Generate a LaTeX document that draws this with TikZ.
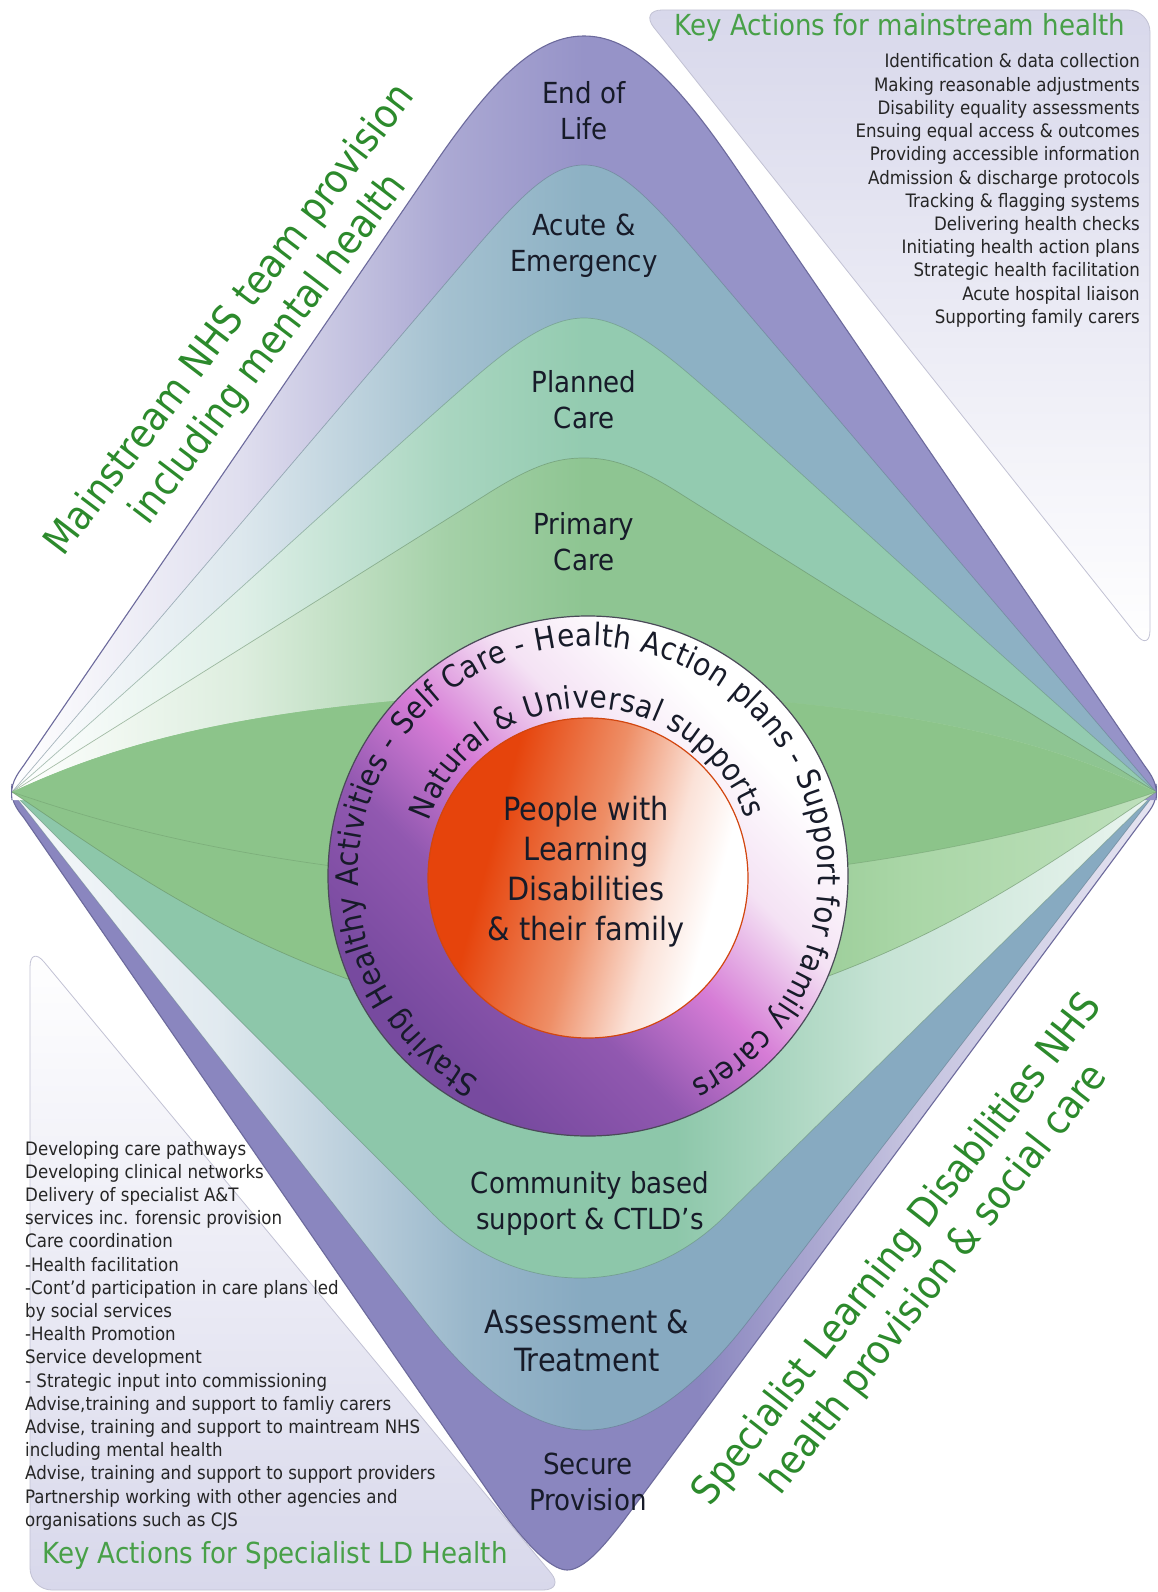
\documentclass[tikz,border=0pt]{standalone}
\usepackage{fontspec}
\setmainfont{DejaVu Sans Condensed}
\usetikzlibrary{decorations.text}

% ---------- palette ----------
\definecolor{eolC}{HTML}{9693C8}
\definecolor{acuteC}{HTML}{8DB1C4}
\definecolor{plannedC}{HTML}{93CBB0}
\definecolor{primaryC}{HTML}{8EC592}
\definecolor{lensC}{HTML}{8CC48A}
\definecolor{lensLight}{HTML}{A9D6A6}
\definecolor{commC}{HTML}{8DC7AA}
\definecolor{assessC}{HTML}{87AAC1}
\definecolor{secureC}{HTML}{8A86BF}
\definecolor{edgeC}{HTML}{6C6A9C}
\definecolor{panelC}{HTML}{D8D8EB}
\definecolor{panelEdge}{HTML}{C2C2D4}
\definecolor{titleG}{HTML}{48A048}
\definecolor{diagG}{HTML}{2C8A2C}
\definecolor{labelC}{HTML}{171B29}
\definecolor{listC}{HTML}{262626}
\definecolor{ringDark}{HTML}{774A9F}
\definecolor{ringMid}{HTML}{9158B0}
\definecolor{ringPink}{HTML}{D67CD6}
\definecolor{ringPale}{HTML}{F4E2F4}
\definecolor{ringLine}{HTML}{4A4A58}
\definecolor{coreC}{HTML}{E6440C}
\definecolor{coreMid}{HTML}{EE8E66}
\definecolor{corePale}{HTML}{FBE2D8}
\definecolor{coreLine}{HTML}{D2460F}

% ---------- shadings (25bp = left edge of the shape, 75bp = right edge) ----------
\newcommand\upperShade[2]{%
  \pgfdeclarehorizontalshading{#1}{100bp}{color(0bp)=(white); color(25bp)=(white);
    color(35bp)=(#2!30!white); color(44bp)=(#2!80!white); color(50bp)=(#2); color(100bp)=(#2)}}
\upperShade{eolShade}{eolC}
\upperShade{acuteShade}{acuteC}
\upperShade{plannedShade}{plannedC}
\upperShade{primaryShade}{primaryC}
\pgfdeclarehorizontalshading{secureShade}{100bp}{color(0bp)=(secureC); color(25bp)=(secureC);
  color(55bp)=(secureC); color(64bp)=(secureC!50!white); color(75bp)=(secureC!22!white); color(100bp)=(secureC!22!white)}
\pgfdeclarehorizontalshading{assessShade}{100bp}{color(0bp)=(assessC!8!white); color(25bp)=(assessC!8!white);
  color(34bp)=(assessC!25!white); color(45bp)=(assessC!85!white); color(50bp)=(assessC); color(100bp)=(assessC)}
\pgfdeclarehorizontalshading{commShade}{100bp}{color(0bp)=(commC); color(25bp)=(commC);
  color(54bp)=(commC); color(63bp)=(commC!50!white); color(75bp)=(commC!18!white); color(100bp)=(commC!18!white)}
\pgfdeclarehorizontalshading{lensBShade}{100bp}{color(0bp)=(lensC); color(25bp)=(lensC);
  color(55bp)=(lensC); color(64bp)=(lensLight); color(75bp)=(lensLight!75!white); color(100bp)=(lensLight!75!white)}
\pgfdeclarehorizontalshading{ringShade}{100bp}{color(0bp)=(ringDark); color(28bp)=(ringDark);
  color(40bp)=(ringMid); color(50bp)=(ringPink); color(60bp)=(ringPale); color(70bp)=(white); color(100bp)=(white)}
\pgfdeclarehorizontalshading{coreShade}{100bp}{color(0bp)=(coreC); color(34bp)=(coreC);
  color(50bp)=(coreMid); color(62bp)=(corePale); color(70bp)=(white); color(100bp)=(white)}

% ---------- band outlines (x relative to the vertical axis) ----------
\newcommand\pathEoL{(-572,800) .. controls (-574,784) and (-568,776) .. (-560,765)
  -- (-150,165) .. controls (-88,74) and (-45,36) .. (0,36)
  .. controls (45,36) and (88,74) .. (150,165)
  -- (560,765) .. controls (568,776) and (574,784) .. (572,800)}
\newcommand\pathAcute{(-572,792) -- (-110,250) .. controls (-61,193) and (-32,165) .. (0,165)
  .. controls (32,165) and (61,193) .. (110,250) -- (572,792)}
\newcommand\pathPlanned{(-572,792) .. controls (-380,624) and (-200,456) .. (-112,380)
  .. controls (-66,340) and (-32,318) .. (0,318) .. controls (32,318) and (66,340) .. (112,380)
  .. controls (200,456) and (380,624) .. (572,792)}
\newcommand\pathPrimary{(-572,792) -- (-100,496) .. controls (-50,464) and (-26,458) .. (0,458)
  .. controls (26,458) and (50,464) .. (100,496) -- (572,792)}
\newcommand\pathSecure{(-572,784) .. controls (-574,800) and (-568,808) .. (-560,818)
  -- (-90,1500) .. controls (-64,1537) and (-35,1570) .. (-17,1570)
  .. controls (0,1570) and (20,1546) .. (40,1520)
  -- (560,818) .. controls (568,808) and (574,800) .. (572,784)}
\newcommand\pathAssess{(-572,792) -- (-160,1320) .. controls (-105,1391) and (-50,1430) .. (3,1430)
  .. controls (56,1430) and (110,1391) .. (165,1320) -- (572,792)}
\newcommand\pathComm{(-572,792) -- (-150,1215) .. controls (-100,1265) and (-45,1278) .. (-4,1278)
  .. controls (37,1278) and (92,1265) .. (142,1215) -- (572,792)}
\newcommand\lensTop{(-572,792) .. controls (-460,740) and (-320,700) .. (0,690)
  .. controls (320,700) and (460,740) .. (572,792)}
\newcommand\lensAbottom{(572,792) .. controls (460,830) and (320,870) .. (0,890)
  .. controls (-320,870) and (-460,830) .. (-572,792)}
\newcommand\lensBbottom{(572,792) .. controls (440,880) and (300,990) .. (0,1040)
  .. controls (-300,990) and (-440,880) .. (-572,792)}

\newcommand\ringfont{\fontsize{31}{36}\selectfont}

\tikzset{
  bandline/.style={draw=#1!70!black, line width=0.7pt, draw opacity=0.55},
  rimline/.style={draw=edgeC, line width=1.1pt},
  bandlabel/.style={font=\fontsize{29}{36}\selectfont, text=labelC, align=center, inner sep=0pt},
  diagtext/.style={font=\fontsize{40}{48}\selectfont, text=diagG, align=center, inner sep=0pt},
  paneltitle/.style={font=\fontsize{29}{34}\selectfont, text=titleG, inner sep=0pt},
  listline/.style={font=\fontsize{18.5}{23}\selectfont, text=listC, inner sep=0pt},
  panel/.style={draw=panelEdge, line width=0.8pt, rounded corners=22pt}
}

\begin{document}
\begin{tikzpicture}[x=1pt, y=-1pt]
\fill[white] (0,0) rectangle (1158,1592);
\useasboundingbox (0,0) rectangle (1158,1592);

% ---------- corner panels ----------
\shadedraw[panel, top color=panelC, bottom color=white] (640,10) -- (1150,10) -- (1150,652) -- cycle;
\shadedraw[panel, top color=white, bottom color=panelC] (30,945) -- (565,1590) -- (30,1590) -- cycle;

% ---------- the diamond bands ----------
\begin{scope}[shift={(584,0)}]
  % lower half
  \shade[shading=secureShade] \pathSecure -- cycle;
  \draw[rimline] \pathSecure;
  \shade[shading=assessShade] \pathAssess -- cycle;
  \draw[bandline=assessC] \pathAssess;
  \shade[shading=commShade] \pathComm -- cycle;
  \draw[bandline=commC] \pathComm;
  % upper half
  \shade[shading=eolShade] \pathEoL -- cycle;
  \draw[rimline] \pathEoL;
  \shade[shading=acuteShade] \pathAcute -- cycle;
  \draw[bandline=acuteC] \pathAcute;
  \shade[shading=plannedShade] \pathPlanned -- cycle;
  \draw[bandline=plannedC] \pathPlanned;
  \shade[shading=primaryShade] \pathPrimary -- cycle;
  \draw[bandline=primaryC] \pathPrimary;
  % central ribbon behind the circle
  \shade[shading=lensBShade] \lensTop -- \lensBbottom -- cycle;
  \draw[bandline=lensC] \lensBbottom;
  \fill[lensC] \lensTop -- \lensAbottom -- cycle;
  \draw[bandline=lensC, draw opacity=0.35] \lensAbottom;
\end{scope}

% ---------- central circle ----------
\shadedraw[shading=ringShade, shading angle=45, draw=ringLine, line width=1.2pt]
  (588,876) circle[radius=260pt];
\shadedraw[shading=coreShade, shading angle=-15, draw=coreLine, line width=1.2pt]
  (588,878) circle[radius=160pt];

\begin{scope}[shift={(588,876)}]
  \path[decorate, decoration={text along path, text color=labelC, text align={fit to path},
      text={|\ringfont|Staying Healthy Activities - Self Care - Health Action plans - Support for family carers}}]
    (242:230pt) arc[start angle=242, end angle=-63.5, radius=230pt];
  \path[decorate, decoration={text along path, text color=labelC, text align={fit to path},
      text={|\ringfont|Natural {\&} Universal supports}}]
    (161:168pt) arc[start angle=161, end angle=20, radius=168pt];
\end{scope}

\node[bandlabel, font=\fontsize{32}{40}\selectfont] (core) at (586,872)
  {People with\\Learning\\Disabilities\\\& their family};

% ---------- band labels ----------
\node[bandlabel] (eol) at (584,111) {End of\\Life};
\node[bandlabel] (acute) at (584,246) {Acute \&\\Emergency};
\node[bandlabel] (planned) at (584,400) {Planned\\Care};
\node[bandlabel] (primary) at (584,542) {Primary\\Care};
\node[bandlabel] (community) at (590,1203) {Community based\\support \& CTLD’s};
\node[bandlabel, font=\fontsize{32}{38}\selectfont] (assess) at (587,1341) {Assessment \&\\Treatment};
\node[bandlabel] (secure) at (588,1482) {Secure\\Provision};

% ---------- diagonal captions ----------
\node[diagtext, rotate=52.7] (mainstream) at (250,335)
  {Mainstream NHS team provision\\including mental health};
\node[diagtext, rotate=52] (specialist) at (917,1265)
  {Specialist Learning Disabilities NHS\\health provision \& social care};

% ---------- key action panels ----------
\node[paneltitle, anchor=base] (ktop) at (900,36) {Key Actions for mainstream health};
\foreach [count=\i from 0] \t in {
  {Identification \& data collection},
  {Making reasonable adjustments},
  {Disability equality assessments},
  {Ensuing equal access \& outcomes},
  {Providing accessible information},
  {Admission \& discharge protocols},
  {Tracking \& flagging systems},
  {Delivering health checks},
  {Initiating health action plans},
  {Strategic health facilitation},
  {Acute hospital liaison},
  {Supporting family carers}}
  \node[listline, anchor=base east] (top\i) at (1140,{68+23.2*\i}) {\t};

\foreach [count=\i from 0] \t in {
  {Developing care pathways},
  {Developing clinical networks},
  {Delivery of specialist A\&T},
  {services inc. forensic provision},
  {Care coordination},
  {-Health facilitation},
  {-Cont’d participation in care plans led},
  {by social services},
  {-Health Promotion},
  {Service development},
  {- Strategic input into commissioning},
  {Advise,training and support to famliy carers},
  {Advise, training and support to maintream NHS},
  {including mental health},
  {Advise, training and support to support providers},
  {Partnership working with other agencies and},
  {organisations such as CJS}}
  \node[listline, anchor=base west] (bot\i) at (25,{1155+23.2*\i}) {\t};
\node[paneltitle, anchor=base] (kbot) at (275,1563) {Key Actions for Specialist LD Health};
\end{tikzpicture}
\end{document}
